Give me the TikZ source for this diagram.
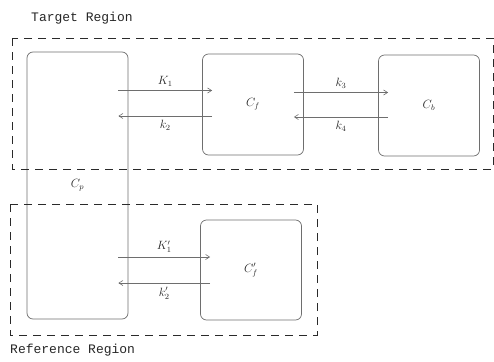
\documentclass[tikz,border=0pt]{standalone}
\usepackage{fontspec}
\setmonofont{Liberation Mono}
\usepackage{tikz}
\usetikzlibrary{arrows.meta,positioning,calc}
\definecolor{boxline}{HTML}{6E6E6E}
\definecolor{frameline}{HTML}{2A2A2A}

\begin{document}
\begin{tikzpicture}[x=1pt, y=-1pt,
        cell/.style={rectangle, rounded corners=6pt, draw=boxline, line width=0.7pt,
                     minimum width=101pt, minimum height=101pt, inner sep=0pt,
                     font=\large, text=black!85},
        region/.style={draw=frameline, line width=0.8pt, dash pattern=on 8pt off 6pt},
        title/.style={font=\ttfamily\fontsize{13}{15}\selectfont, text=black!85, anchor=west, inner sep=0pt},
        flow/.style={-{Straight Barb[length=4pt,width=5pt]}, line width=0.6pt, boxline,
                     shorten <=-10pt, shorten >=-10pt},
        lab/.style={font=\large, text=black!85, inner sep=4pt}
    ]
        \useasboundingbox (0,0) rectangle (494,361);

        % cells
        \node[cell, minimum height=267pt] (cp) at (77.5,185.5) {$C_p$};
        \node[cell] (cf) at (253,104.5) {$C_f$};
        \node[cell] (cb) at (429,105.5) {$C_b$};
        \node[cell, minimum height=100pt] (cfr) at (251,270) {$C'_f$};

        % regions
        \draw[region] (12,38) rectangle (493,169);
        \draw[region] (10,204) rectangle (317,335);
        \node[title] (tgt) at (31,18) {Target Region};
        \node[title] (ref) at (10,350) {Reference Region};

        % arrow levels
        \coordinate (a1) at ([yshift=14pt]cf.west);
        \coordinate (a2) at ([yshift=-11.5pt]cf.west);
        \coordinate (a3) at ([yshift=13pt]cb.west);
        \coordinate (a4) at ([yshift=-11.5pt]cb.west);
        \coordinate (a5) at ([yshift=13pt]cfr.west);
        \coordinate (a6) at ([yshift=-13pt]cfr.west);

        % target region exchanges
        \draw[flow] (cp.east |- a1) -- node[lab, above]{$K_1$} (a1);
        \draw[flow] (a2) -- node[lab, below]{$k_2$} (cp.east |- a2);
        \draw[flow] (cf.east |- a3) -- node[lab, above]{$k_3$} (a3);
        \draw[flow] (a4) -- node[lab, below]{$k_4$} (cf.east |- a4);

        % reference region exchanges
        \draw[flow] (cp.east |- a5) -- node[lab, above]{$K'_1$} (a5);
        \draw[flow] (a6) -- node[lab, below]{$k'_2$} (cp.east |- a6);
    \end{tikzpicture}
\end{document}
